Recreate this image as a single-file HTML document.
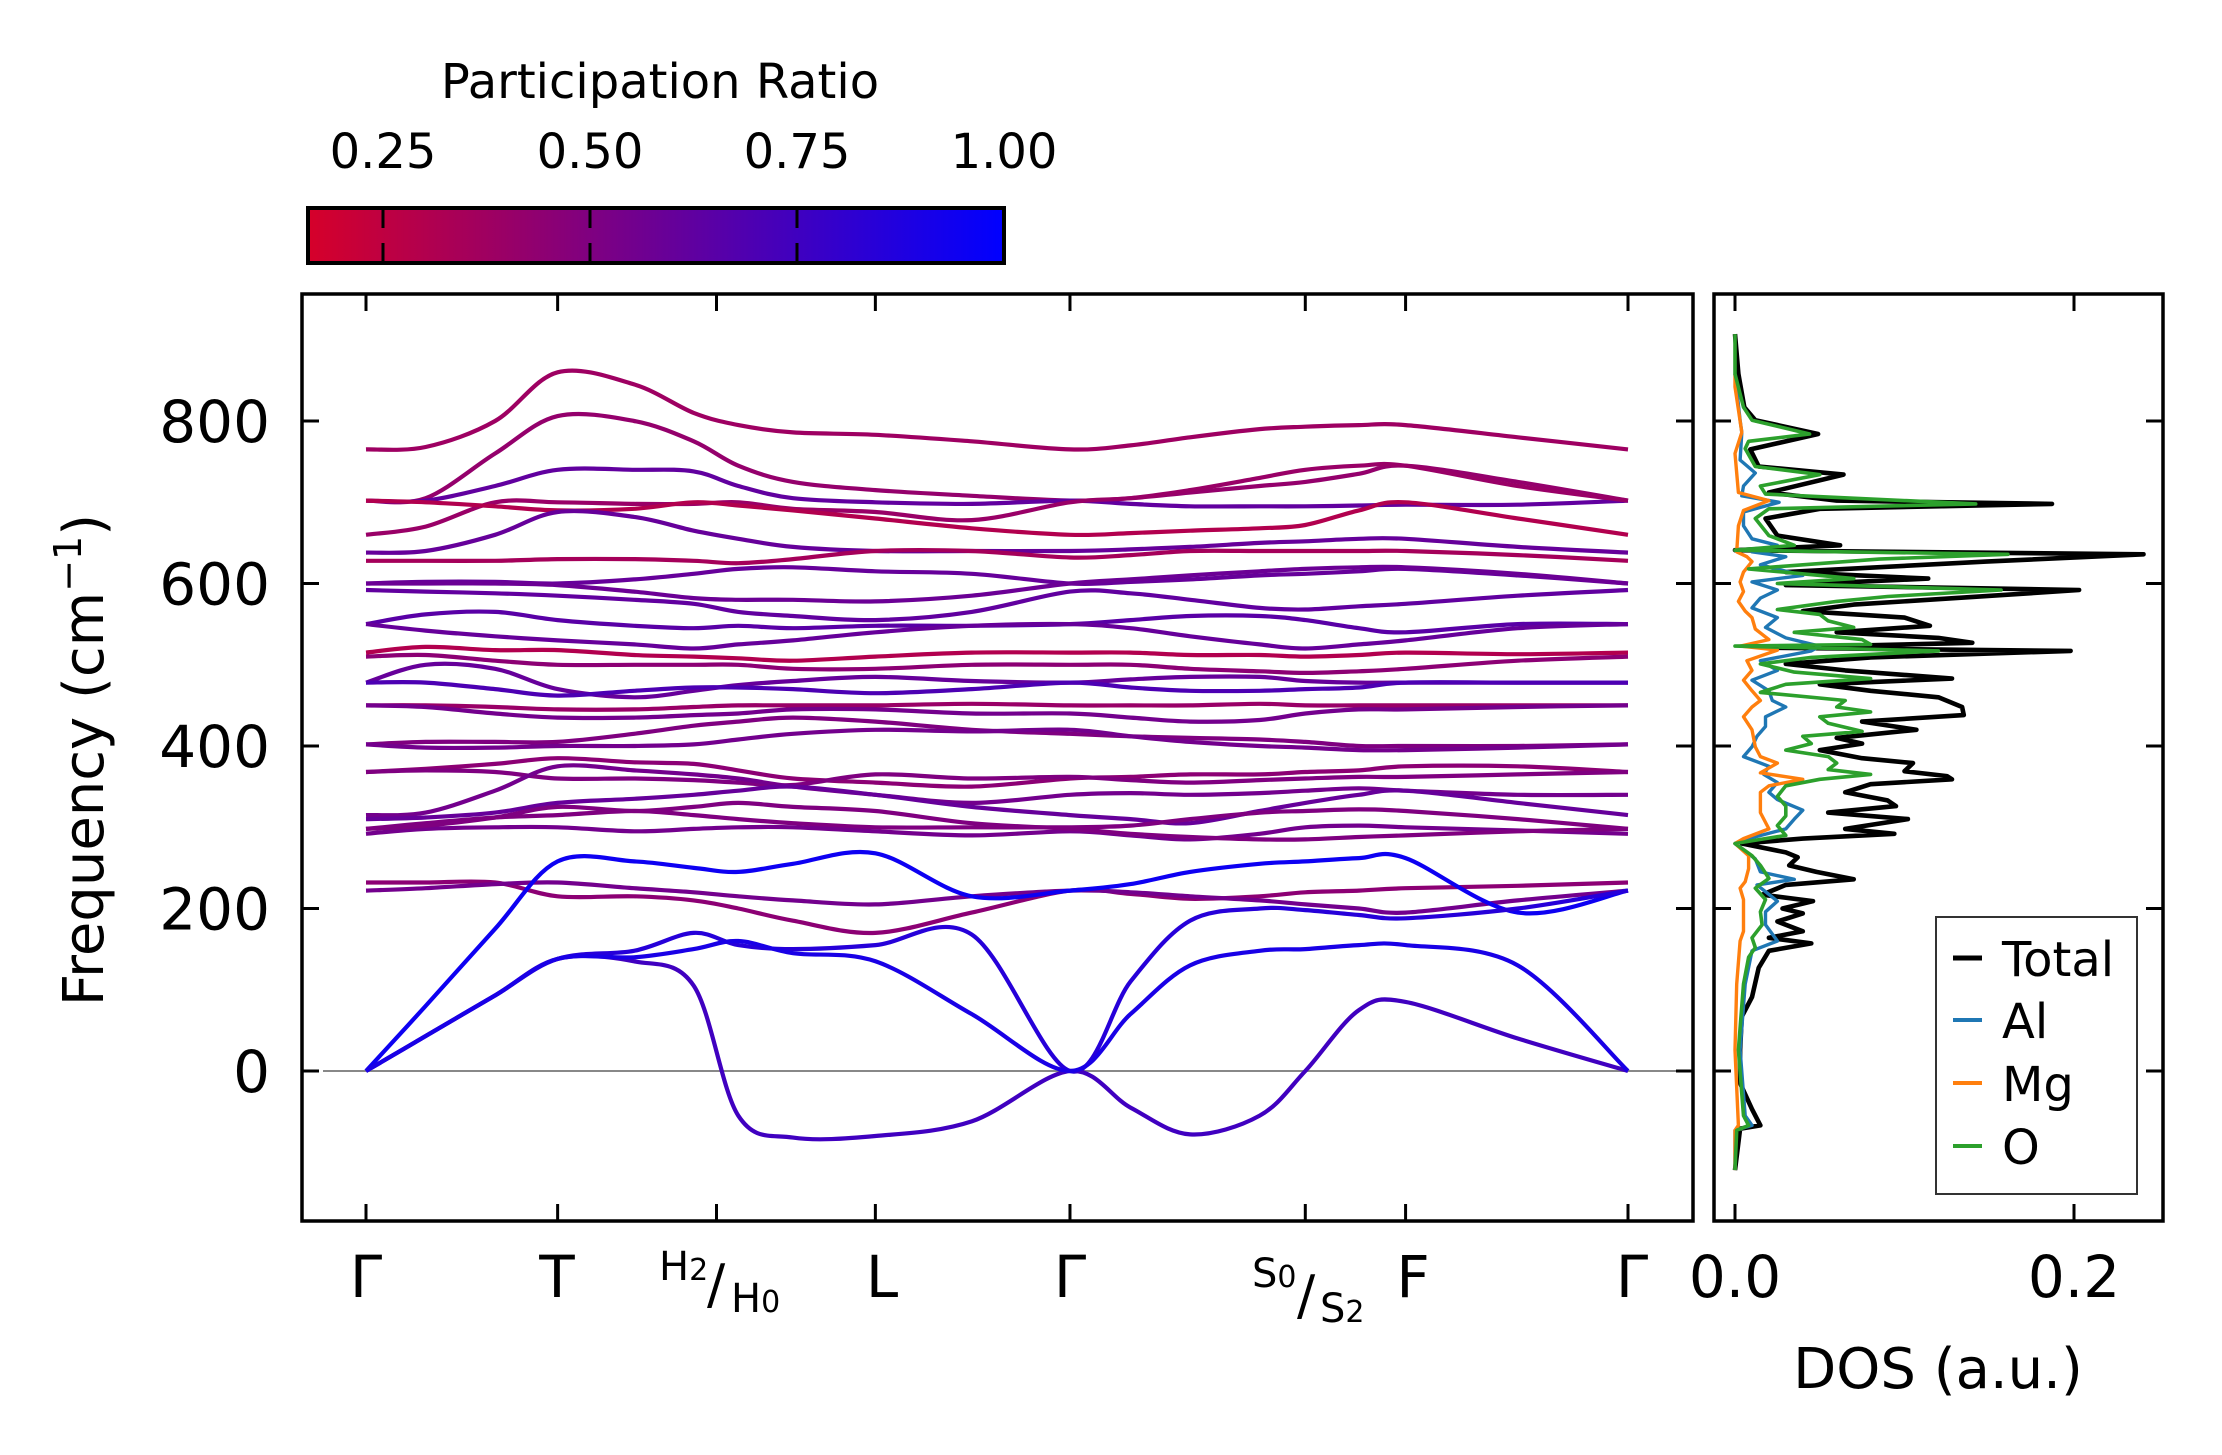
<!DOCTYPE html>
<html><head><meta charset="utf-8"><style>
html,body{margin:0;padding:0;background:#fff;}
svg{display:block;font-family:"DejaVu Sans","Liberation Sans",sans-serif;}
</style></head><body>
<svg id="fig" width="2222" height="1455" viewBox="0 0 2222 1455" xmlns="http://www.w3.org/2000/svg">
<defs>
<linearGradient id="cmap" x1="0" x2="1" y1="0" y2="0">
<stop offset="0" stop-color="rgb(214,0,42)"/><stop offset="1" stop-color="rgb(0,0,255)"/>
</linearGradient>
<clipPath id="mainclip"><rect x="302" y="294" width="1391" height="927"/></clipPath>
<clipPath id="dosclip"><rect x="1714" y="294" width="449" height="927"/></clipPath>
</defs>
<g id="colorbar">
<text x="660" y="98" font-size="48" text-anchor="middle">Participation Ratio</text>
<rect x="308" y="208" width="696" height="55" fill="url(#cmap)" stroke="#000" stroke-width="4"/>
</g>
<g id="bands" clip-path="url(#mainclip)"></g>
<g id="dos" clip-path="url(#dosclip)"></g>
<g id="axes"></g>
<g id="legend">
<rect x="1936" y="917" width="201" height="277" fill="#fff" stroke="#333" stroke-width="2"/>
<line x1="1953" x2="1982" y1="958" y2="958" stroke="#000" stroke-width="5"/>
<text x="2002" y="976" font-size="48">Total</text>
<line x1="1953" x2="1982" y1="1020" y2="1020" stroke="#1f77b4" stroke-width="4"/>
<text x="2002" y="1038" font-size="48">Al</text>
<line x1="1953" x2="1982" y1="1083" y2="1083" stroke="#ff7f0e" stroke-width="4"/>
<text x="2002" y="1101" font-size="48">Mg</text>
<line x1="1953" x2="1982" y1="1146" y2="1146" stroke="#2ca02c" stroke-width="4"/>
<text x="2002" y="1164" font-size="48">O</text>
</g>
<text transform="translate(103,760) rotate(-90)" font-size="56" text-anchor="middle">Frequency (cm<tspan font-size="38" dy="-22">−1</tspan><tspan dy="22">)</tspan></text>
<text x="1938" y="1388" font-size="56" text-anchor="middle">DOS (a.u.)</text>
<g font-size="58">
<text x="366" y="1297" text-anchor="middle">Γ</text>
<text x="557" y="1297" text-anchor="middle">T</text>
<text x="659" y="1280" font-size="40">H<tspan font-size="30">2</tspan></text>
<text x="707" y="1303" font-size="54">/</text>
<text x="731" y="1312" font-size="40">H<tspan font-size="30">0</tspan></text>
<text x="882" y="1297" text-anchor="middle">L</text>
<text x="1070" y="1297" text-anchor="middle">Γ</text>
<text x="1252" y="1287" font-size="40">S<tspan font-size="30">0</tspan></text>
<text x="1297" y="1314" font-size="54">/</text>
<text x="1320" y="1322" font-size="40">S<tspan font-size="30">2</tspan></text>
<text x="1413" y="1297" text-anchor="middle">F</text>
<text x="1632" y="1297" text-anchor="middle">Γ</text>
</g>
</svg>
<script>
// ---------- band structure data ----------
const kSamples=[0,60,130,193,270,330,375,430,513,610,709,770,830,900,946,1000,1047,1160,1271];
const kSymmetry=[0,193,353,513,709,946,1047,1271];
const yTicks=[0,200,400,600,800];
const b01=[765,768,800,860,845,810,795,786,783,775,765,770,780,790,793,795,795,780,765];
const b02=[702,705,760,806,800,775,745,725,715,708,702,705,712,720,725,735,745,725,702];
const b03=[702,702,720,740,740,738,720,705,700,698,702,698,695,695,695,696,697,697,702];
const b04=[660,670,700,700,698,698,700,692,688,678,700,705,715,730,740,745,745,720,702];
const b05=[702,700,695,690,692,700,696,690,680,668,660,662,665,668,672,690,700,680,660];
const b06=[638,640,660,688,682,665,655,645,640,640,640,642,645,650,652,655,655,645,638];
const b07=[628,628,628,630,630,628,625,630,640,640,632,635,640,640,640,640,640,635,628];
const b08=[600,602,602,600,605,612,618,620,615,612,600,602,605,610,612,615,618,610,600];
const b09=[600,600,600,598,590,582,580,580,578,585,600,605,610,615,618,620,620,612,600];
const b10=[592,590,588,585,580,575,565,560,555,565,590,588,580,570,568,572,575,585,592];
const b11=[550,562,565,555,548,545,548,545,548,548,550,555,560,560,555,545,540,550,550];
const b12=[550,542,535,530,525,520,525,530,540,548,550,545,535,525,520,525,530,545,550];
const b13=[515,522,518,518,512,510,508,505,510,515,515,515,512,512,510,512,515,513,515];
const b14=[510,512,505,500,500,500,500,495,495,500,500,500,495,492,490,492,495,505,510];
const b15=[478,500,495,470,460,468,475,480,485,480,478,482,485,485,480,478,478,478,478];
const b16=[478,478,470,462,468,472,472,470,465,470,478,472,468,468,470,472,478,478,478];
const b17=[450,450,448,445,445,448,450,450,450,452,450,450,450,452,450,450,450,450,450];
const b18=[450,448,440,435,435,438,440,445,445,440,440,435,430,432,440,445,445,448,450];
const b19=[402,405,405,405,415,425,430,435,430,420,415,412,410,408,405,400,400,400,402];
const b20=[402,398,398,400,400,402,408,415,420,418,420,412,405,400,398,395,395,398,402];
const b21=[368,372,378,385,380,378,370,360,355,350,360,362,365,365,368,370,375,375,368];
const b22=[368,370,368,360,360,358,355,352,365,360,362,358,355,358,360,362,362,365,368];
const b23=[315,318,345,375,370,365,360,350,340,330,340,342,340,342,345,348,345,340,340];
const b24=[310,312,318,330,335,340,345,350,340,325,315,310,305,320,330,340,345,330,315];
const b25=[298,305,312,315,320,315,310,305,300,300,300,302,310,318,320,322,320,310,298];
const b26=[292,298,300,300,295,298,300,300,295,290,295,290,285,292,300,302,300,296,292];
const b27=[298,302,312,325,320,325,330,325,320,305,298,292,288,285,285,288,290,295,298];
const b28=[232,232,232,215,215,210,200,185,170,195,222,218,212,215,220,222,225,228,232];
const b29=[222,225,230,232,225,220,215,210,205,215,222,220,215,210,205,200,195,210,222];
const a1=[0,80,175,258,258,250,245,255,268,215,222,230,245,255,258,262,262,195,222];
const a2=[0,43,93,138,148,170,155,150,155,168,0,110,185,200,198,192,188,200,222];
const a3=[0,43,93,138,135,105,-55,-82,-80,-62,0,-45,-78,-55,0,75,85,40,0];
const a4=[0,43,93,138,140,150,160,145,135,70,0,70,130,148,150,155,155,130,0];
const bandList=[b01,b02,b03,b04,b05,b06,b07,b08,b09,b10,b11,b12,b13,b14,b15,b16,b17,b18,b19,b20,b21,b22,b23,b24,b25,b26,b27,b28,b29,a1,a2,a3,a4];
const bandPR=[0.38,0.42,0.62,0.4,0.3,0.6,0.35,0.6,0.58,0.62,0.65,0.6,0.3,0.45,0.6,0.7,0.4,0.55,0.5,0.55,0.45,0.5,0.55,0.6,0.5,0.55,0.5,0.45,0.55,0.95,0.85,0.75,0.9];
// ---------- DOS data ----------
const fTotal=[-122,-71,-67,-47,-15,26,67,91,127,148,157,164,172,184,194,200,209,217,229,236,245,253,263,269,280,286,292,298,310,318,326,333,343,353,359,363,369,379,385,395,403,410,420,430,438,448,460,468,476,483,493,501,509,517,521,527,533,540,548,558,566,574,582,592,598,606,614,627,636,641,647,659,680,692,698,702,712,734,744,765,784,801,817,858,907];
const dTotal=[0,0.003,0.015,0.01,0.003,0.003,0.004,0.01,0.014,0.02,0.045,0.02,0.04,0.025,0.04,0.028,0.046,0.016,0.03,0.07,0.048,0.032,0.037,0.03,0.004,0.04,0.094,0.065,0.102,0.055,0.095,0.09,0.065,0.08,0.128,0.125,0.1,0.105,0.075,0.05,0.075,0.06,0.107,0.075,0.135,0.134,0.12,0.08,0.05,0.128,0.065,0.03,0.08,0.198,0.02,0.14,0.12,0.06,0.115,0.1,0.04,0.07,0.13,0.203,0.03,0.114,0.03,0.148,0.241,0,0.062,0.025,0.018,0.05,0.187,0.06,0.02,0.064,0.014,0.009,0.049,0.012,0.0055,0.002,0];
const fO=[-122,-73,-67,-55,26,107,140,152,164,180,196,211,225,237,253,265,280,290,302,314,326,338,351,359,365,371,379,387,395,403,412,418,428,436,442,448,456,466,476,483,491,501,509,517,523,525,531,540,546,554,562,568,578,584,592,600,606,618,630,636,641,647,659,680,692,698,710,720,734,744,766,775,784,801,817,858,907];
const dO=[0,0.001,0.008,0.005,0.002,0.005,0.008,0.012,0.01,0.016,0.015,0.018,0.012,0.02,0.015,0.01,0,0.03,0.025,0.03,0.03,0.025,0.03,0.05,0.08,0.055,0.06,0.055,0.03,0.045,0.04,0.075,0.055,0.05,0.08,0.06,0.065,0.015,0.03,0.08,0.035,0.015,0.045,0.12,0,0.08,0.075,0.035,0.07,0.055,0.05,0.025,0.06,0.09,0.157,0.025,0.07,0.008,0.085,0.161,0,0.035,0.02,0.012,0.02,0.142,0.018,0.015,0.05,0.012,0.006,0.008,0.044,0.01,0.005,0,0];
const fAl=[-122,-73,-67,-55,26,107,148,160,180,196,209,229,236,245,261,280,286,298,310,321,334,343,355,365,375,387,399,412,424,436,448,456,468,481,493,505,517,523,533,546,558,570,582,592,602,610,623,633,639,647,655,671,688,700,708,720,736,752,786,801,858];
const dAl=[0,0,0.01,0.006,0.003,0.006,0.01,0.025,0.018,0.018,0.025,0.013,0.035,0.015,0.012,0,0.008,0.03,0.035,0.04,0.025,0.02,0.025,0.017,0.02,0.005,0.01,0.013,0.018,0.018,0.03,0.022,0.02,0.01,0.025,0.015,0.045,0.05,0.03,0.018,0.025,0.01,0.015,0.025,0.01,0.04,0.015,0.03,0.01,0.025,0.01,0.005,0.005,0.026,0.004,0.005,0.012,0.003,0.004,0.003,0];
const fMg=[-122,-73,-67,26,107,160,172,196,211,225,233,249,265,280,286,298,318,338,343,351,359,367,379,387,399,420,436,448,456,468,481,493,505,518,523,531,544,558,566,578,590,602,614,627,633,639,671,690,702,712,760,786,842,858];
const dMg=[0,0,0.002,0,0.001,0.003,0.005,0.005,0.005,0.003,0.006,0.008,0.008,0,0.005,0.02,0.015,0.015,0.015,0.02,0.04,0.015,0.025,0.015,0.012,0.01,0.005,0.01,0.015,0.01,0.005,0.01,0.007,0.025,0.003,0.02,0.012,0.01,0.006,0.002,0.005,0.003,0.005,0.01,0.007,0.001,0.002,0.005,0.02,0.002,0,0.004,0,0];
const dosTicks=[0.0,0.2];
const cbarTicks=[0.25,0.50,0.75,1.00];

// ---------- scales ----------
const NS='http://www.w3.org/2000/svg';
function xScale(k){return 366+k*(1262/1271);}
function yScale(f){return 1071-f*0.8125;}
function dScale(d){return 1735+d*1695;}
function cbScale(v){return 383+(v-0.25)*828;}
function prColor(p){const t=Math.max(0,Math.min(1,(p-0.159)/(1-0.159)));
  return 'rgb('+Math.round(214*(1-t))+',0,'+Math.round(42+213*t)+')';}
function mk(tag,attrs,parent){const e=document.createElementNS(NS,tag);for(const a in attrs)e.setAttribute(a,attrs[a]);parent.appendChild(e);return e;}
function smoothPath(pts){let d='M'+pts[0][0].toFixed(1)+','+pts[0][1].toFixed(1);
  for(let i=0;i<pts.length-1;i++){const p0=pts[Math.max(0,i-1)],p1=pts[i],p2=pts[i+1],p3=pts[Math.min(pts.length-1,i+2)];
    const c1=[p1[0]+(p2[0]-p0[0])/6,p1[1]+(p2[1]-p0[1])/6],c2=[p2[0]-(p3[0]-p1[0])/6,p2[1]-(p3[1]-p1[1])/6];
    d+=' C'+c1[0].toFixed(1)+','+c1[1].toFixed(1)+' '+c2[0].toFixed(1)+','+c2[1].toFixed(1)+' '+p2[0].toFixed(1)+','+p2[1].toFixed(1);}
  return d;}
function linePath(xs,ys){return xs.map((x,i)=>(i?'L':'M')+x.toFixed(1)+','+ys[i].toFixed(1)).join(' ');}

// zero line
const gBands=document.getElementById('bands');
const zl=mk('line',{x1:323,x2:1693,y1:yScale(0),y2:yScale(0),stroke:'#888',"stroke-width":2},gBands);


bandList.forEach((b,i)=>{
  const pts=kSamples.map((k,j)=>[xScale(k),yScale(b[j])]);
  const p=mk('path',{d:smoothPath(pts),fill:'none',stroke:prColor(bandPR[i]),"stroke-width":4.2},gBands);
  
  
});

// DOS curves
const gDos=document.getElementById('dos');
[[fTotal,dTotal,'#000',4.6,'dos-total'],[fAl,dAl,'#1f77b4',3.4,'dos-al'],[fMg,dMg,'#ff7f0e',3.4,'dos-mg'],[fO,dO,'#2ca02c',3.6,'dos-o']].forEach(s=>{
  const p=mk('path',{d:linePath(s[1].map(dScale),s[0].map(yScale)),fill:'none',stroke:s[2],"stroke-width":s[3],"stroke-linejoin":'round'},gDos);
  
  
});

// axes frames and ticks
const gAx=document.getElementById('axes');
const f1=mk('rect',{x:302,y:294,width:1391,height:927,fill:'none',stroke:'#000',"stroke-width":3.5},gAx);


const f2=mk('rect',{x:1714,y:294,width:449,height:927,fill:'none',stroke:'#000',"stroke-width":3.5},gAx);


yTicks.forEach(v=>{
  const y=yScale(v);
  [[302,319],[1693,1676],[1714,1731],[2163,2146]].forEach(s=>{
    const t=mk('line',{x1:s[0],x2:s[1],y1:y,y2:y,stroke:'#000',"stroke-width":3},gAx);
    
    
  });
  const lb=mk('text',{x:270,y:y+21,"font-size":58,"text-anchor":'end'},gAx);
  lb.textContent=String(v);
  
  
});
kSymmetry.forEach(k=>{
  const x=xScale(k);
  [[1221,1204],[294,311]].forEach(s=>{
    const t=mk('line',{x1:x,x2:x,y1:s[0],y2:s[1],stroke:'#000',"stroke-width":3},gAx);
    
    
  });
});
dosTicks.forEach(v=>{
  const x=dScale(v);
  [[1221,1204],[294,311]].forEach(s=>{
    const t=mk('line',{x1:x,x2:x,y1:s[0],y2:s[1],stroke:'#000',"stroke-width":3},gAx);
    
    
  });
  const lb=mk('text',{x:x,y:1297,"font-size":58,"text-anchor":'middle'},gAx);
  lb.textContent=v.toFixed(1);
  
  
});
// colorbar ticks
const gCb=document.getElementById('colorbar');
cbarTicks.forEach(v=>{
  const x=cbScale(v);
  if(v<1){
    [[208,228],[263,243]].forEach(s=>{
      const t=mk('line',{x1:x,x2:x,y1:s[0],y2:s[1],stroke:'#000',"stroke-width":3},gCb);
      
      
    });
  }
  const lb=mk('text',{x:x,y:168,"font-size":48,"text-anchor":'middle'},gCb);
  lb.textContent=v.toFixed(2);
  
  
});
</script>
</body></html>
